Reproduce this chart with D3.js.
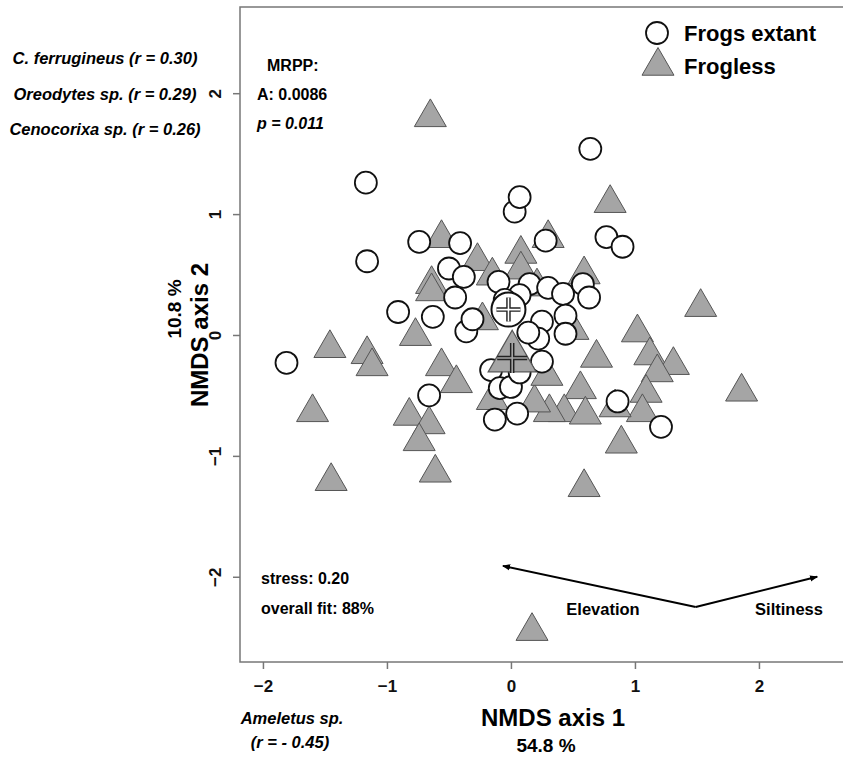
<!DOCTYPE html>
<html>
<head>
<meta charset="utf-8">
<script src="https://cdn.jsdelivr.net/npm/d3@7"></script>
<style>
  body { margin: 0; background: #fff; }
  svg text { font-family: "Liberation Sans", Arial, sans-serif; font-weight: bold; }
</style>
</head>
<body>
<script>
// NMDS site scores, sites where frogs are still present
const frogsX = [-1.81, -1.17, -1.16, -0.91, -0.74, -0.66, -0.63, -0.50, -0.45, -0.41,
  -0.38, -0.36, -0.31, -0.16, -0.10, -0.09, 0.00, -0.13, 0.05, 0.03,
  0.07, 0.15, 0.28, 0.30, 0.42, 0.58, 0.63, 0.44, 0.25, 0.44,
  0.22, 0.25, 0.64, 0.77, 0.90, 0.86, 1.21, 0.07, 0.14, 0.07, -0.05];
const frogsY = [-0.23, 1.26, 0.61, 0.19, 0.77, -0.50, 0.15, 0.55, 0.31, 0.76,
  0.48, 0.03, 0.13, -0.29, 0.44, -0.44, -0.43, -0.70, -0.65, 1.02,
  1.14, 0.42, 0.78, 0.39, 0.34, 0.42, 0.31, 0.16, 0.11, 0.01,
  -0.03, -0.22, 1.54, 0.81, 0.73, -0.55, -0.76, 0.33, 0.02, -0.31, 0.29];

// sites where frogs are gone
const froglessX = [-0.65, -0.56, -0.27, -0.15, 0.08, 0.08, 0.30, 0.59, 0.80, -0.64,
  -0.64, -0.77, -1.46, -1.16, -1.12, -0.56, -0.44, -1.60, -0.82, -0.66,
  -0.74, -0.61, -1.45, 0.17, 0.59, 0.89, 1.53, 1.02, 1.12, 1.31,
  1.18, 0.69, 1.09, 1.86, 0.56, 0.43, 0.60, 0.31, 0.19, 1.06,
  0.84, -0.15, 0.21, -0.23, 0.50, 0.29];
const froglessY = [1.80, 0.80, 0.61, 0.49, 0.67, 0.54, 0.80, 0.50, 1.09, 0.42,
  0.36, -0.01, -0.11, -0.16, -0.26, -0.26, -0.40, -0.64, -0.67, -0.74,
  -0.88, -1.14, -1.21, -2.45, -1.26, -0.90, 0.23, 0.02, -0.17, -0.25,
  -0.31, -0.19, -0.48, -0.47, -0.45, -0.64, -0.66, -0.64, -0.56, -0.64,
  -0.60, -0.54, 0.40, 0.12, 0.04, -0.34];

// group centroids
const centroidFrogs = [-0.02, 0.21];
const centroidFrogless = [0.01, -0.19];

// environmental vectors
const vecOrigin = [1.49, -2.25];
const vecNames = ["Elevation", "Siltiness"];
const vecTips = [[-0.065, -1.91], [2.47, -2.0]];

const xTicks = [-2, -1, 0, 1, 2];
const yTicks = [-2, -1, 0, 1, 2];

const W = 843, H = 757;
const plotL = 240, plotR = 846, plotT = 7, plotB = 662;

const svg = d3.select("body").append("svg")
  .attr("width", W).attr("height", H);

svg.append("defs").append("marker")
  .attr("id", "arr")
  .attr("viewBox", "0 0 10 10")
  .attr("refX", 9).attr("refY", 5)
  .attr("markerWidth", 4).attr("markerHeight", 4)
  .attr("orient", "auto")
  .append("path").attr("d", "M0,1 L10,5 L0,9 Z").attr("fill", "#000");

const x = d3.scaleLinear().domain([-2.185, 2.702]).range([plotL, plotR]);
const y = d3.scaleLinear().domain([-2.705, 2.713]).range([plotB, plotT]);

// axes
const xAxis = svg.append("g")
  .attr("transform", `translate(0,${plotB})`)
  .call(d3.axisBottom(x).tickValues(xTicks).tickSize(7).tickPadding(11).tickFormat(d3.format("d")));
xAxis.select(".domain").remove();
xAxis.selectAll("line").attr("stroke", "#777").attr("stroke-width", 1.5);
xAxis.selectAll("text").attr("font-size", 17).attr("fill", "#111");

const yAxis = svg.append("g")
  .attr("transform", `translate(${plotL},0)`)
  .call(d3.axisLeft(y).tickValues(yTicks).tickSize(7).tickFormat(d3.format("d")));
yAxis.select(".domain").remove();
yAxis.selectAll("line").attr("stroke", "#777").attr("stroke-width", 1.5);
yAxis.selectAll("text")
  .attr("font-size", 17).attr("fill", "#111")
  .attr("x", null).attr("dy", null)
  .attr("text-anchor", "middle")
  .attr("transform", "translate(-19,0) rotate(-90)");

svg.append("rect")
  .attr("x", plotL).attr("y", plotT)
  .attr("width", plotR - plotL).attr("height", plotB - plotT)
  .attr("fill", "none").attr("stroke", "#777").attr("stroke-width", 1.5);

const triSize = 443;
const tri = d3.symbol().type(d3.symbolTriangle).size(triSize);
const triFill = "#a5a5a5";

// frogless triangles
svg.append("g").selectAll("path")
  .data(d3.range(froglessX.length))
  .join("path")
  .attr("d", tri)
  .attr("transform", i => `translate(${x(froglessX[i])},${y(froglessY[i])})`)
  .attr("fill", triFill)
  .attr("stroke", "#555")
  .attr("stroke-width", 1);

// frogs extant circles
svg.append("g").selectAll("circle")
  .data(d3.range(frogsX.length))
  .join("circle")
  .attr("cx", i => x(frogsX[i]))
  .attr("cy", i => y(frogsY[i]))
  .attr("r", 11)
  .attr("fill", "#fff")
  .attr("stroke", "#111")
  .attr("stroke-width", 1.8);

// centroids with outlined crosses
function cross(g, cx, cy, h, inner) {
  const d = `M${cx - h},${cy} H${cx + h} M${cx},${cy - h} V${cy + h}`;
  g.append("path").attr("d", d).attr("stroke", "#222").attr("stroke-width", 4.5).attr("fill", "none");
  g.append("path").attr("d", d).attr("stroke", inner).attr("stroke-width", 1.6).attr("fill", "none");
}
const cg = svg.append("g");
cg.append("circle")
  .attr("cx", x(centroidFrogs[0])).attr("cy", y(centroidFrogs[1]))
  .attr("r", 17).attr("fill", "#fff").attr("stroke", "#111").attr("stroke-width", 2);
cross(cg, x(centroidFrogs[0]), y(centroidFrogs[1]), 12, "#fff");
cg.append("path")
  .attr("d", d3.symbol().type(d3.symbolTriangle).size(1000))
  .attr("transform", `translate(${x(centroidFrogless[0])},${y(centroidFrogless[1])})`)
  .attr("fill", triFill).attr("stroke", "#555").attr("stroke-width", 1.2);
cross(cg, x(centroidFrogless[0]), y(centroidFrogless[1]), 15, triFill);

// environmental vectors
vecTips.forEach(t => {
  svg.append("line")
    .attr("x1", x(vecOrigin[0])).attr("y1", y(vecOrigin[1]))
    .attr("x2", x(t[0])).attr("y2", y(t[1]))
    .attr("stroke", "#000").attr("stroke-width", 2)
    .attr("marker-end", "url(#arr)");
});
svg.append("text").attr("x", 603).attr("y", 615).attr("text-anchor", "middle")
  .attr("font-size", 16.5).text(vecNames[0]);
svg.append("text").attr("x", 789).attr("y", 615).attr("text-anchor", "middle")
  .attr("font-size", 16.5).text(vecNames[1]);

// annotations inside plot
svg.append("text").attr("x", 267).attr("y", 71).attr("font-size", 16).text("MRPP:");
svg.append("text").attr("x", 257).attr("y", 100).attr("font-size", 16).text("A: 0.0086");
svg.append("text").attr("x", 257).attr("y", 129).attr("font-size", 16)
  .attr("font-style", "italic").text("p = 0.011");
svg.append("text").attr("x", 261).attr("y", 584).attr("font-size", 16).text("stress: 0.20");
svg.append("text").attr("x", 261).attr("y", 614).attr("font-size", 16).text("overall fit: 88%");

// legend
svg.append("circle").attr("cx", 657).attr("cy", 33).attr("r", 11)
  .attr("fill", "#fff").attr("stroke", "#111").attr("stroke-width", 1.8);
svg.append("path").attr("d", tri).attr("transform", "translate(658,66)")
  .attr("fill", triFill).attr("stroke", "#555").attr("stroke-width", 1);
svg.append("text").attr("x", 684).attr("y", 41).attr("font-size", 22).text("Frogs extant");
svg.append("text").attr("x", 684).attr("y", 74).attr("font-size", 22).text("Frogless");

// axis titles
svg.append("text").attr("x", 553).attr("y", 726).attr("text-anchor", "middle")
  .attr("font-size", 24).text("NMDS axis 1");
svg.append("text").attr("x", 546).attr("y", 752).attr("text-anchor", "middle")
  .attr("font-size", 19).text("54.8 %");
svg.append("text").attr("transform", "translate(208,335) rotate(-90)")
  .attr("text-anchor", "middle").attr("font-size", 24).text("NMDS axis 2");
svg.append("text").attr("transform", "translate(181,309) rotate(-90)")
  .attr("text-anchor", "middle").attr("font-size", 19).text("10.8 %");

// taxa correlated with the axes
const taxaY = ["C. ferrugineus (r = 0.30)", "Oreodytes sp. (r = 0.29)", "Cenocorixa sp. (r = 0.26)"];
taxaY.forEach((t, i) => {
  svg.append("text").attr("x", 105).attr("y", 64 + i * 35.5)
    .attr("text-anchor", "middle").attr("font-size", 16.5)
    .attr("font-style", "italic").text(t);
});
svg.append("text").attr("x", 292).attr("y", 724).attr("text-anchor", "middle")
  .attr("font-size", 16.5).attr("font-style", "italic").text("Ameletus sp.");
svg.append("text").attr("x", 290).attr("y", 748).attr("text-anchor", "middle")
  .attr("font-size", 16.5).attr("font-style", "italic").text("(r = - 0.45)");
</script>
</body>
</html>
